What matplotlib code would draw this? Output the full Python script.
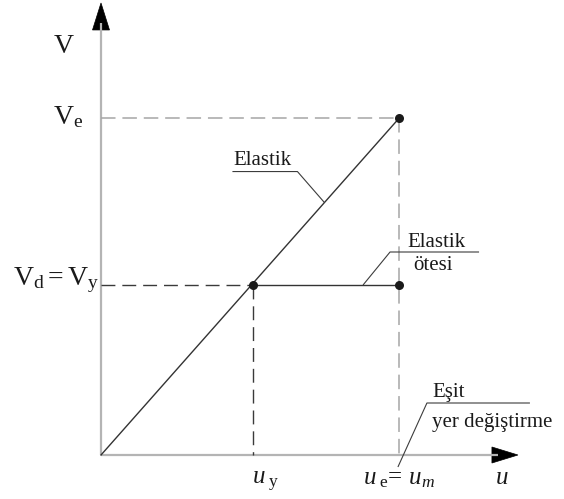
import matplotlib
matplotlib.use("Agg")
import matplotlib.pyplot as plt
from matplotlib.patches import Polygon
from matplotlib.transforms import ScaledTranslation

plt.rcParams["font.family"] = ["Liberation Serif", "DejaVu Serif"]
plt.rcParams["mathtext.fontset"] = "custom"
plt.rcParams["mathtext.rm"] = "Liberation Serif"
plt.rcParams["mathtext.it"] = "Liberation Serif:italic"

# Displacement / force values of the idealised response
u_yield = 1.0      # u_y
u_elastic = 1.96   # u_e = u_m
V_yield = 1.0      # V_d = V_y
V_elastic = 1.98   # V_e

# Axis extents (arrow tips)
u_axis_end = 2.743
V_axis_end = 2.659

W, H, DPI = 5.64, 4.99, 100
fig = plt.figure(figsize=(W, H), dpi=DPI)
ax = fig.add_axes([0, 0, 1, 1])
ax.set_axis_off()

# pixel layout of the drawing area
X0, Y0 = 101, 455          # origin in image pixels
SX, SY = 152.0, 170.0      # pixels per unit
ax.set_xlim(-X0 / SX, (W * DPI - X0) / SX)
ax.set_ylim(-(H * DPI - Y0) / SY, Y0 / SY)


def at_px(px, py):
    """Image pixel position -> data coordinates (for label placement)."""
    return (px - X0) / SX, (Y0 - py) / SY


def offset_tr(u, v):
    """Transform whose origin sits at data point (u, v), units in pixels/100."""
    return fig.dpi_scale_trans + ScaledTranslation(u, v, ax.transData)


def leader(anchor, offsets):
    tr = offset_tr(*anchor)
    xs = [dx / DPI for dx, dy in offsets]
    ys = [dy / DPI for dx, dy in offsets]
    ax.plot(xs, ys, transform=tr, color="#3c3c3c", lw=0.8,
            solid_capstyle="butt", clip_on=False)


def head(tip, pts):
    tr = offset_tr(*tip)
    poly = Polygon([(x / DPI, y / DPI) for x, y in pts], closed=True,
                   transform=tr, facecolor="black", edgecolor="black",
                   lw=0.5, clip_on=False)
    ax.add_patch(poly)


def note(anchor, dx, dy, s):
    ax.text(dx / DPI, dy / DPI, s, transform=offset_tr(*anchor),
            fontsize=15, ha="left", va="baseline", color="#1a1a1a")


# axes with arrow heads
axis_col = "#b4b4b4"
ax.plot([0, 0], [0, V_axis_end - 20 / SY], color=axis_col, lw=1.6,
        solid_capstyle="butt")
ax.plot([0, u_axis_end - 20 / SX], [0, 0], color=axis_col, lw=1.6,
        solid_capstyle="butt")
head((0, V_axis_end), [(0, 0), (-8.5, -27), (8.5, -27)])
head((u_axis_end, 0), [(0, 0), (-26, 8), (-26, -8)])

# dashed guide lines
gray_dash = "#a6a6a6"
dark_dash = "#3a3a3a"
ax.plot([0, u_elastic], [V_elastic, V_elastic], color=gray_dash, lw=1.1,
        dashes=(9.5, 4.5))
ax.plot([u_elastic, u_elastic], [V_elastic, 0], color=gray_dash, lw=1.1,
        dashes=(9.5, 4.5))
ax.plot([0, u_yield], [V_yield, V_yield], color=dark_dash, lw=1.0,
        dashes=(10, 5))
ax.plot([u_yield, u_yield], [V_yield, 0], color=dark_dash, lw=1.0,
        dashes=(10, 5))

# response curves
line_col = "#333333"
ax.plot([0, u_elastic], [0, V_elastic], color=line_col, lw=1.0)
ax.plot([u_yield, u_elastic], [V_yield, V_yield], color=line_col, lw=1.0)
ax.plot([u_yield, u_elastic, u_elastic], [V_yield, V_elastic, V_yield],
        "o", color="#1a1a1a", ms=6.5, mec="none")

# leader: Elastik
u_a = 1.47
anc = (u_a, V_elastic / u_elastic * u_a)
leader(anc, [(0, 0), (-27, 31), (-92, 31)])
note(anc, -91, 38, "Elastik")

# leader: Elastik ötesi
anc = (1.724, V_yield)
leader(anc, [(0, 0), (27, 33), (116, 33)])
note(anc, 44, 38, "Elastik")
note(anc, 50, 15, "ötesi")

# leader: Eşit yer değiştirme
anc = (u_elastic, 0)
leader(anc, [(-1, -12), (28, 52), (131, 52)])
note(anc, 33, 58, "Eşit")
note(anc, 33, 28, "yer değiştirme")

# axis labels
txt = dict(color="#1a1a1a", ha="left", va="baseline")
ax.text(*at_px(53, 53), r"$\mathrm{V}$", fontsize=20, **txt)
ax.text(*at_px(53, 124), r"$\mathrm{V}_{\mathrm{e}}$", fontsize=20, **txt)
ax.text(*at_px(13, 285), r"$\mathrm{V}_{\mathrm{d}} = \mathrm{V}_{\mathrm{y}}$",
        fontsize=20, **txt)
ax.text(*at_px(252, 484), r"$u_{\;\mathrm{y}}$", fontsize=18, **txt)
ax.text(*at_px(363, 484), r"$u_{\;\mathrm{e}}\!=\, u_{m}$", fontsize=18, **txt)
ax.text(*at_px(495, 484), r"$u$", fontsize=18, **txt)

fig.savefig("out.png", dpi=DPI)
